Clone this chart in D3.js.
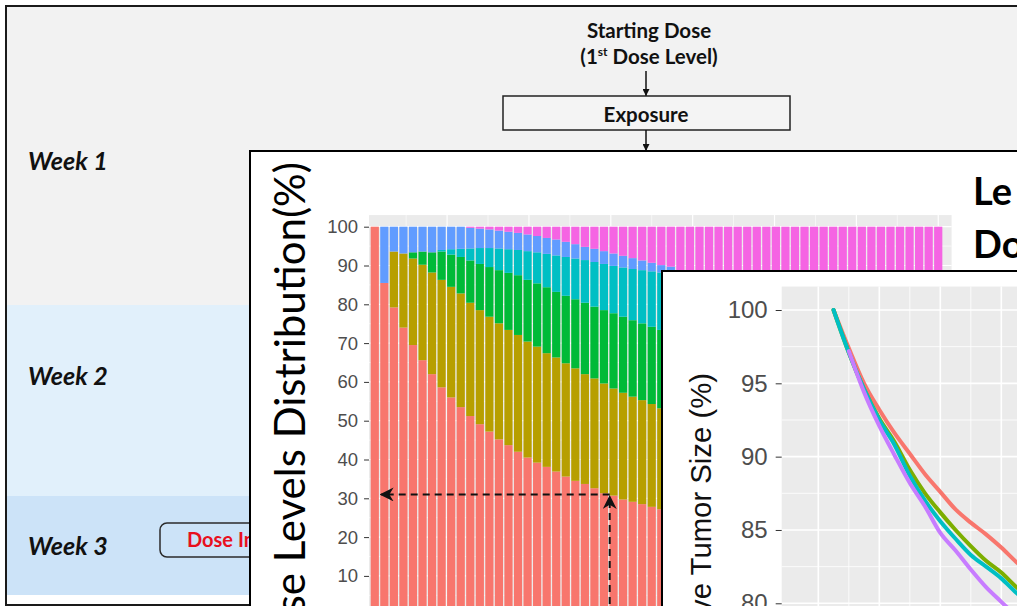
<!DOCTYPE html>
<html>
<head>
<meta charset="utf-8">
<script src="https://cdn.jsdelivr.net/npm/d3@7"></script>
<style>
  body { margin: 0; background: #fff; overflow: hidden; }
  svg { display: block; }
</style>
</head>
<body>
<svg width="1017" height="606"></svg>
<script>
// ---- data ----
const weekLabels = ["Week 1", "Week 2", "Week 3"];

// dose level distribution (%) per week, 60 weekly bars
const weeks = d3.range(1, 61);
const level1 = [100,85.5,79.2,74.0,69.5,65.6,62.0,58.6,56.0,53.5,51.2,49.1,47.2,45.2,43.7,42.0,40.5,39.2,38.1,36.9,35.6,34.5,33.7,32.6,31.3,30.7,29.7,29.1,28.5,27.8,27.2,
  26.6,26.1,25.6,25.1,24.7,24.2,23.8,23.4,23.0,22.7,22.3,22.0,21.7,21.4,21.1,20.8,20.6,20.3,20.1,19.9,19.7,19.5,19.3,19.1,18.9,18.8,18.6,18.5,18.3];
const level2 = [0,0,14.4,19.1,22.3,24.6,26.2,27.7,28.5,29.3,29.2,29.4,29.6,29.9,29.7,30.1,29.9,29.9,29.3,29.4,29.2,29.0,28.3,28.3,28.3,27.6,27.5,27.1,26.8,26.5,26.0,
  25.6,25.2,24.8,24.3,23.9,23.5,23.1,22.7,22.3,21.9,21.6,21.2,20.9,20.6,20.3,20.0,19.7,19.4,19.2,18.9,18.7,18.5,18.3,18.1,17.9,17.7,17.5,17.4,17.2];
const level3 = [0,0,0,0,1.6,3.4,5.2,7.3,8.3,9.4,10.9,11.9,12.8,13.7,14.7,15.4,15.9,16.3,17.0,16.9,17.4,17.8,18.4,18.5,18.9,19.4,19.6,19.7,19.8,19.9,20.2,
  20.3,20.4,20.5,20.6,20.6,20.7,20.7,20.8,20.8,20.8,20.8,20.8,20.8,20.7,20.7,20.7,20.6,20.6,20.5,20.5,20.4,20.4,20.3,20.3,20.2,20.2,20.1,20.1,20.0];
const level4 = [0,0,0,0,0,0,0,0.4,1.4,2.1,3.1,4.1,4.9,5.6,6.1,6.5,7.4,8.0,8.6,9.4,10.0,10.5,11.0,11.5,11.9,12.2,12.7,13.2,13.7,14.3,14.8,
  15.3,15.7,16.1,16.5,16.8,17.1,17.4,17.6,17.8,18.0,18.2,18.3,18.4,18.5,18.6,18.7,18.7,18.8,18.8,18.9,18.9,18.9,18.9,18.9,18.9,18.9,18.9,18.9,18.9];
const level5 = [0,14.5,6.4,6.9,6.6,6.4,6.6,6.0,5.8,5.7,5.3,5.0,4.8,4.6,4.5,4.4,4.3,4.2,4.1,4.1,3.9,3.7,3.4,3.4,3.3,3.2,3.0,2.8,2.5,2.2,1.9,
  1.9,1.3,1.0,0.9,0.9,0.8,0.8,0.7,0.7,0.7,0.6,0.6,0.6,0.6,0.5,0.5,0.5,0.5,0.5,0.4,0.4,0.4,0.4,0.4,0.4,0.3,0.3,0.3,0.3];
const level6 = [0,0,0,0,0,0,0,0,0,0,0.3,0.5,0.7,1.0,1.3,1.6,2.0,2.4,2.9,3.3,3.9,4.5,5.2,5.7,6.3,6.9,7.5,8.1,8.7,9.3,9.9,
  10.3,11.3,12.0,12.6,13.1,13.7,14.2,14.8,15.4,15.9,16.5,17.1,17.6,18.2,18.8,19.3,19.9,20.4,20.9,21.4,21.9,22.3,22.8,23.2,23.7,24.1,24.6,24.8,25.3];
const levelKeys = ["L1", "L2", "L3", "L4", "L5", "L6"];
const levelColors = ["#F8766D", "#B79F00", "#00BA38", "#00BFC4", "#619CFF", "#F564E3"];
const distTicks = [10, 20, 30, 40, 50, 60, 70, 80, 90, 100];
const gridDays = [30, 60, 90, 120, 150, 180, 210, 240, 270, 300, 330, 360, 390, 420];
// annotation: week where level 1 reaches ~31 %
const annotWeek = 25.6, annotValue = 31, annotEndWeek = 1.65;

// relative tumor size (%) by week, one line per regimen
const tumorWeeks = [1, 2, 3, 4, 5, 6, 7, 8, 9, 10, 11, 12, 13, 14];
const tumorRed    = [100, 97.4, 95.0, 93.2, 91.6, 90.2, 88.8, 87.6, 86.4, 85.5, 84.7, 83.8, 82.8, 81.9];
const tumorGreen  = [100, 97.1, 94.6, 92.6, 91.0, 89.1, 87.5, 86.2, 85.0, 83.9, 82.9, 82.1, 81.1, 80.3];
const tumorCyan   = [100, 97.1, 94.6, 92.5, 90.8, 88.7, 87.0, 85.6, 84.4, 83.3, 82.5, 81.7, 80.7, 79.9];
const tumorPurple = [null, 97.2, 94.4, 92.1, 90.1, 88.2, 86.6, 84.8, 83.6, 82.3, 81.1, 80.1, 79.1, 78.2];
const tumorColors = ["#F8766D", "#7CAE00", "#00BFC4", "#C77CFF"];
const tumorTicks = [80, 85, 90, 95, 100];

// ---- drawing ----
const svg = d3.select("svg");
const defs = svg.append("defs");
defs.append("marker").attr("id", "tri")
  .attr("viewBox", "0 0 10 10").attr("refX", 10).attr("refY", 5)
  .attr("markerUnits", "userSpaceOnUse").attr("markerWidth", 8).attr("markerHeight", 7)
  .attr("orient", "auto")
  .append("path").attr("d", "M0,0L10,5L0,10z").attr("fill", "#111");
defs.append("marker").attr("id", "stealth")
  .attr("viewBox", "0 0 10 10").attr("refX", 9).attr("refY", 5)
  .attr("markerUnits", "userSpaceOnUse").attr("markerWidth", 14).attr("markerHeight", 14)
  .attr("orient", "auto")
  .append("path").attr("d", "M0,0L10,5L0,10L3,5z").attr("fill", "#111");

// background frame with week bands
const bands = [
  {y0: 7, y1: 305, fill: "#f2f2f2"},
  {y0: 305, y1: 496, fill: "#e1f0fb"},
  {y0: 496, y1: 595, fill: "#cce3f8"}
];
svg.append("g").selectAll("rect").data(bands).enter().append("rect")
  .attr("x", 7).attr("width", 1020)
  .attr("y", d => d.y0).attr("height", d => d.y1 - d.y0)
  .attr("fill", d => d.fill);
svg.append("rect").attr("x", 6).attr("y", 6).attr("width", 1030).attr("height", 599)
  .attr("fill", "none").attr("stroke", "#1a1a1a").attr("stroke-width", 2);

svg.append("g").selectAll("text").data(weekLabels).enter().append("text")
  .attr("x", 28).attr("y", (d, i) => [170, 385, 555][i])
  .attr("font-family", "Lato, 'Open Sans', sans-serif")
  .attr("font-weight", "bold").attr("font-style", "italic")
  .attr("font-size", 25).attr("fill", "#111")
  .text(d => d);

// flowchart top
const flow = svg.append("g").attr("font-family", "Lato, 'Open Sans', sans-serif")
  .attr("font-weight", "bold").attr("fill", "#111");
flow.append("text").attr("x", 649).attr("y", 38).attr("text-anchor", "middle")
  .attr("font-size", 20.5).text("Starting Dose");
const t2 = flow.append("text").attr("x", 649).attr("y", 64).attr("text-anchor", "middle")
  .attr("font-size", 20.5);
t2.append("tspan").text("(1");
t2.append("tspan").attr("font-size", 12).attr("dy", -8).text("st");
t2.append("tspan").attr("dy", 8).text(" Dose Level)");
flow.append("line").attr("x1", 646).attr("x2", 646).attr("y1", 71).attr("y2", 96)
  .attr("stroke", "#111").attr("stroke-width", 1.5).attr("marker-end", "url(#tri)");
flow.append("rect").attr("x", 503).attr("y", 96).attr("width", 287).attr("height", 34)
  .attr("fill", "#f4f4f4").attr("stroke", "#222").attr("stroke-width", 1.5);
flow.append("text").attr("x", 646).attr("y", 122).attr("text-anchor", "middle")
  .attr("font-size", 20.5).text("Exposure");
flow.append("line").attr("x1", 646).attr("x2", 646).attr("y1", 130).attr("y2", 151)
  .attr("stroke", "#111").attr("stroke-width", 1.5).attr("marker-end", "url(#tri)");

// "Dose In..." button, partly hidden by the chart panel
svg.append("rect").attr("x", 160).attr("y", 523).attr("width", 120).attr("height", 34)
  .attr("rx", 7).attr("fill", "#cce3f8").attr("stroke", "#2b2b2b").attr("stroke-width", 1.5);
svg.append("text").attr("x", 187).attr("y", 547)
  .attr("font-family", "Lato, 'Open Sans', sans-serif").attr("font-weight", "bold")
  .attr("font-size", 20).attr("fill", "#e8101e").text("Dose In");

// ---- panel 1: dose level distribution ----
const p1 = svg.append("g");
p1.append("rect").attr("x", 250).attr("y", 151).attr("width", 820).attr("height", 500)
  .attr("fill", "#fff").attr("stroke", "#000").attr("stroke-width", 2);

const xw = d3.scaleLinear().domain([0.5, 60.5]).range([370, 943]);
const yb = d3.scaleLinear().domain([0, 100]).range([614.7, 226.7]);

p1.append("rect").attr("x", xw(0.4)).attr("y", yb(103)).attr("width", xw(61.4) - xw(0.4))
  .attr("height", 500).attr("fill", "#ebebeb");
// grid
p1.append("g").selectAll("line").data(d3.range(5, 105, 5)).enter().append("line")
  .attr("x1", xw(0.4)).attr("x2", xw(61.4)).attr("y1", d => yb(d)).attr("y2", d => yb(d))
  .attr("stroke", "#fff").attr("stroke-width", d => d % 10 === 0 ? 1.2 : 0.6);
p1.append("g").selectAll("line").data(gridDays).enter().append("line")
  .attr("x1", d => xw(d / 7)).attr("x2", d => xw(d / 7))
  .attr("y1", yb(103)).attr("y2", 620)
  .attr("stroke", "#fff").attr("stroke-width", (d, i) => i % 2 ? 1.2 : 0.6);

const rows = weeks.map((w, i) => ({week: w, L1: level1[i], L2: level2[i], L3: level3[i],
  L4: level4[i], L5: level5[i], L6: level6[i]}));
const stacked = d3.stack().keys(levelKeys)(rows);
p1.append("g").selectAll("g").data(stacked).enter().append("g")
  .attr("fill", (d, i) => levelColors[i])
  .selectAll("rect").data(d => d).enter().append("rect")
  .attr("x", d => xw(d.data.week - 0.43))
  .attr("width", xw(1.43) - xw(0.57))
  .attr("y", d => yb(d[1]))
  .attr("height", d => yb(d[0]) - yb(d[1]));

const ax1 = p1.append("g").attr("transform", "translate(" + xw(0.4) + ",0)")
  .call(d3.axisLeft(yb).tickValues(distTicks).tickSize(5).tickPadding(6));
ax1.select(".domain").remove();
ax1.selectAll("line").attr("stroke", "#333");
ax1.selectAll("text").attr("fill", "#4d4d4d").attr("font-size", 18.5)
  .attr("font-family", "'Liberation Sans', Arial, sans-serif");

p1.append("text").attr("transform", "translate(305,162) rotate(-90)")
  .attr("text-anchor", "end").attr("font-family", "Lato, 'Open Sans', sans-serif")
  .attr("font-size", 42).attr("fill", "#000").text("Dose Levels Distribution(%)");

p1.append("g").attr("font-family", "Lato, 'Open Sans', sans-serif").attr("font-weight", "bold")
  .attr("font-size", 38).attr("fill", "#000")
  .selectAll("text").data(["Le", "Do"]).enter().append("text")
  .attr("x", 973).attr("y", (d, i) => 205 + i * 53).text(d => d);

// dashed annotation arrows
p1.append("line").attr("x1", xw(annotWeek)).attr("x2", xw(annotWeek))
  .attr("y1", 640).attr("y2", yb(annotValue) + 2)
  .attr("stroke", "#111").attr("stroke-width", 2).attr("stroke-dasharray", "7,5")
  .attr("marker-end", "url(#stealth)");
p1.append("line").attr("x1", xw(annotWeek)).attr("x2", xw(annotEndWeek))
  .attr("y1", yb(annotValue)).attr("y2", yb(annotValue))
  .attr("stroke", "#111").attr("stroke-width", 2).attr("stroke-dasharray", "7,5")
  .attr("marker-end", "url(#stealth)");

// ---- panel 2: relative tumor size ----
const p2 = svg.append("g");
p2.append("rect").attr("x", 662).attr("y", 271).attr("width", 500).attr("height", 400)
  .attr("fill", "#fff").attr("stroke", "#000").attr("stroke-width", 2);

const xt = d3.scaleLinear().domain([0, 14]).range([818.3, 1031.8]);
const yt = d3.scaleLinear().domain([80, 100]).range([603.3, 310]);

p2.append("rect").attr("x", xt(-2.4)).attr("y", yt(101.6)).attr("width", 400).attr("height", 400)
  .attr("fill", "#ebebeb");
p2.append("g").selectAll("line").data(d3.range(75, 102.5, 2.5)).enter().append("line")
  .attr("x1", xt(-2.4)).attr("x2", 1100).attr("y1", d => yt(d)).attr("y2", d => yt(d))
  .attr("stroke", "#fff").attr("stroke-width", d => d % 5 === 0 ? 1.6 : 0.8);
p2.append("g").selectAll("line").data(d3.range(0, 16, 2)).enter().append("line")
  .attr("x1", d => xt(d)).attr("x2", d => xt(d)).attr("y1", yt(101.6)).attr("y2", 700)
  .attr("stroke", "#fff").attr("stroke-width", d => d % 4 === 0 ? 1.6 : 0.8);

const tumorSeries = [tumorRed, tumorGreen, tumorCyan, tumorPurple];
const line = d3.line().defined(d => d[1] != null)
  .x(d => xt(d[0])).y(d => yt(d[1])).curve(d3.curveMonotoneX);
p2.append("g").selectAll("path").data(tumorSeries).enter().append("path")
  .attr("d", s => line(tumorWeeks.map((w, i) => [w, s[i]])))
  .attr("fill", "none").attr("stroke", (d, i) => tumorColors[i])
  .attr("stroke-width", 4).attr("stroke-linejoin", "round").attr("stroke-linecap", "round");

const ax2 = p2.append("g").attr("transform", "translate(" + xt(-2.4) + ",0)")
  .call(d3.axisLeft(yt).tickValues(tumorTicks).tickSize(6).tickPadding(8));
ax2.select(".domain").remove();
ax2.selectAll("line").attr("stroke", "#333");
ax2.selectAll("text").attr("fill", "#4d4d4d").attr("font-size", 24)
  .attr("font-family", "'Liberation Sans', Arial, sans-serif");

p2.append("text").attr("transform", "translate(711,373) rotate(-90)")
  .attr("text-anchor", "end").attr("font-family", "'Liberation Sans', Arial, sans-serif")
  .attr("font-size", 29.3).attr("fill", "#111").text("Relative Tumor Size (%)");
</script>
</body>
</html>
